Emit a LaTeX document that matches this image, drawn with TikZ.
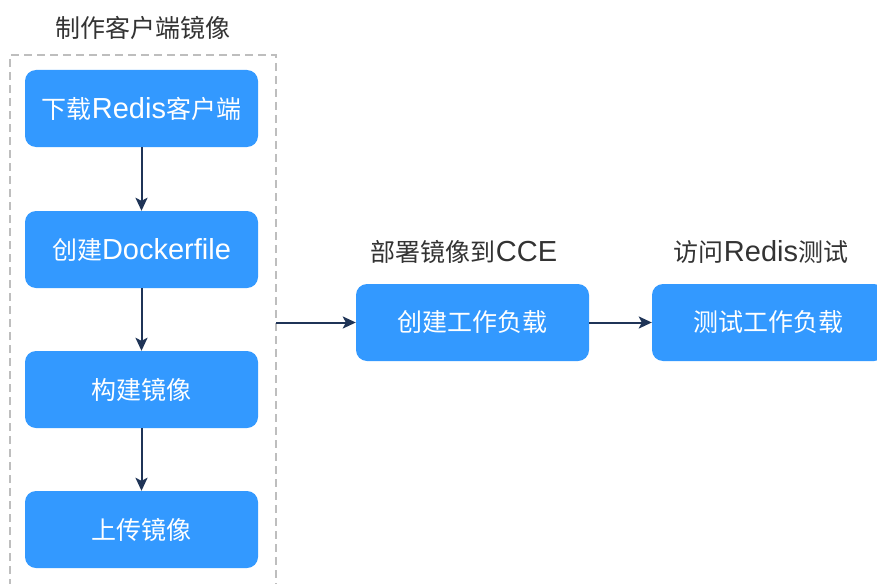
\documentclass[tikz,border=0pt]{standalone}
\usepackage{fontspec}
\setmainfont{Noto Sans CJK SC}
\newfontfamily\lat[Scale=1.16]{Liberation Sans}
\usetikzlibrary{arrows.meta}

\definecolor{stepblue}{RGB}{51,153,255}
\definecolor{arrowblue}{RGB}{31,52,87}
\definecolor{titlegray}{RGB}{51,51,51}
\definecolor{framegray}{RGB}{190,190,190}

\tikzset{
  stepbox/.style={draw=none, fill=stepblue, rounded corners=11pt, minimum width=233pt, minimum height=77pt, text=white, font=\fontsize{25}{28}\selectfont, inner sep=0pt},
  steptitle/.style={text=titlegray, font=\fontsize{25}{28}\selectfont, inner sep=0pt},
  flow/.style={draw=arrowblue, line width=2pt, -{Stealth[length=13pt,width=12pt,inset=3pt]}},
}

\begin{document}
\begin{tikzpicture}[x=1pt,y=-1pt]
\useasboundingbox (0,0) rectangle (877,583);

%Dashed group frame
\draw [framegray, line width=1.6pt, dash pattern={on 8pt off 5pt}] (10,600) -- (10,55) -- (276,55) -- (276,600) ;

% Text Node
\node [steptitle] (client) at (143,28) {制作客户端镜像};
\node [steptitle] (deploy) at (464,252) {部署镜像到{\lat CCE}};
\node [steptitle] (access) at (761,252) {访问{\lat Redis}测试};

% Step boxes
\node [stepbox] (download) at (141.5,108.5) {下载{\lat Redis}客户端};
\node [stepbox] (dockerfile) at (141.5,249.5) {创建{\lat Dockerfile}};
\node [stepbox] (build) at (141.5,389.5) {构建镜像};
\node [stepbox] (upload) at (141.5,529.5) {上传镜像};
\node [stepbox] (workload) at (472.5,322.5) {创建工作负载};
\node [stepbox] (test) at (768.5,322.5) {测试工作负载};

\coordinate (frameout) at (276,322.5);

% Arrows
\draw [flow] (download) -- (dockerfile);
\draw [flow] (dockerfile) -- (build);
\draw [flow] (build) -- (upload);
\draw [flow] (frameout) -- (workload);
\draw [flow] (workload) -- (test);

\end{tikzpicture}
\end{document}
